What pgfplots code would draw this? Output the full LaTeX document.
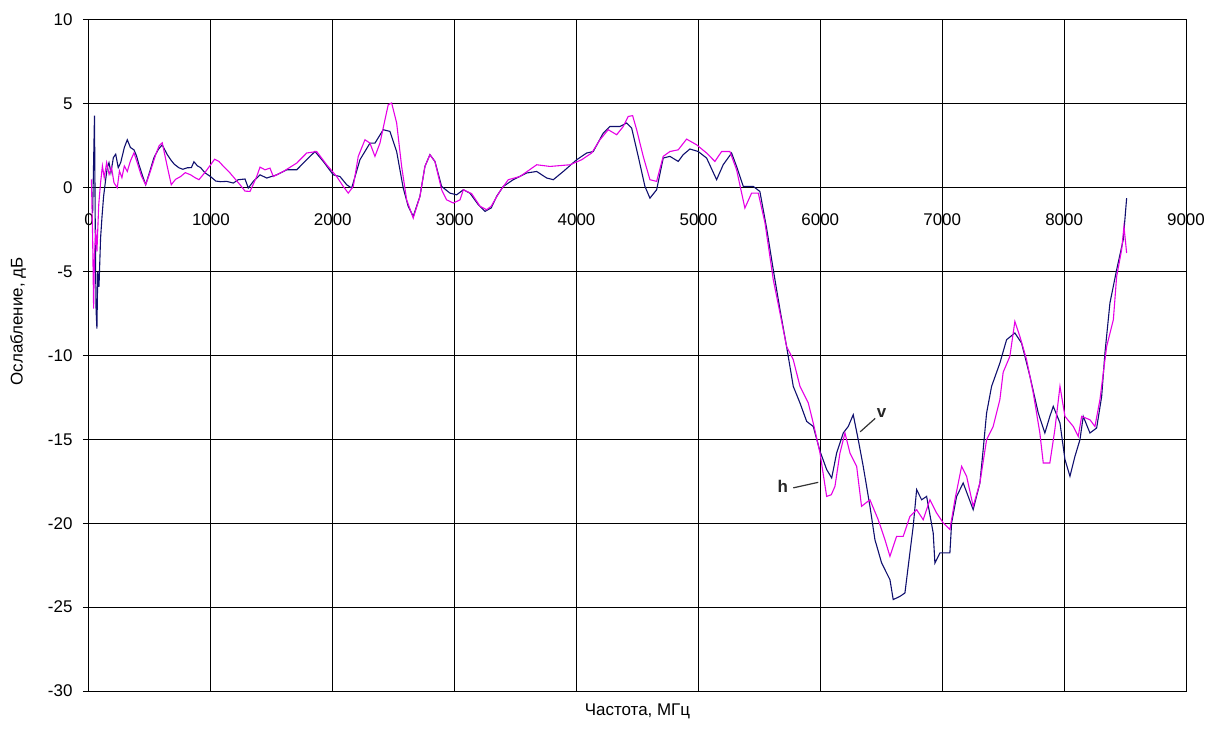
\documentclass[border=0pt]{standalone}
\usepackage{pgfplots}
\pgfplotsset{compat=1.18}
\usepackage{fontspec}
\setmainfont{Liberation Sans}
\definecolor{vcol}{RGB}{15,15,110}
\definecolor{hcol}{RGB}{230,0,230}
\begin{document}
\begin{tikzpicture}
\begin{axis}[
 at={(0,0)}, anchor=south west,
 scale only axis, width=1097bp, height=671bp,
 xmin=0, xmax=9000, ymin=-30, ymax=10,
 xtick={0,1000,...,9000}, ytick={-30,-25,...,10},
 grid=major, grid style={black, line width=1bp},
 axis line style={black, line width=1bp},
 xtick style={draw=none},
 ytick style={black, line width=1bp},
 tick align=outside, major tick length=6bp,
 ytick pos=left, xtick pos=bottom,
 /pgf/number format/assume math mode=true,
 /pgf/number format/1000 sep={},
 scaled ticks=false,
 tick label style={font=\fontsize{17}{20}\selectfont},
 xticklabel style={anchor=north, yshift=487bp},
 yticklabel style={anchor=east, xshift=-7bp},
 xlabel={Частота, МГц}, ylabel={Ослабление, дБ},
 label style={font=\fontsize{17}{20}\selectfont},
 xlabel style={at={(axis description cs:0.5,-0.0298)}, anchor=center},
 ylabel style={at={(axis description cs:-0.0647,0.551)}, anchor=center},
 clip=false,
]
\addplot[color=vcol, line width=1.1bp] coordinates {
(30,-1.5)(45,4.3)(52,-3)(58,-7.3)(65,-8.4)(72,-5)(82,-5.9)(95,-3)(107,-1.7)(120,-0.5)
(137,0.5)(150,1.2)(164,1.5)(180,0.9)(200,1.8)(219,2.0)(240,1.2)(260,1.5)(290,2.4)(314,2.86)
(340,2.4)(369,2.26)(390,1.9)(410,1.37)(440,0.7)(465,0.18)(500,1.0)(533,1.8)(570,2.3)(601,2.56)
(640,2.0)(670,1.67)(700,1.4)(738,1.19)(770,1.1)(806,1.19)(840,1.2)(861,1.55)(890,1.3)(916,1.2)
(950,0.9)(998,0.66)(1040,0.4)(1080,0.36)(1130,0.38)(1184,0.28)(1225,0.48)(1280,0.52)(1307,-0.02)(1348,0.38)
(1403,0.77)(1458,0.58)(1540,0.77)(1622,1.07)(1704,1.07)(1786,1.67)(1854,2.16)(1922,1.57)(2004,0.77)(2059,0.67)
(2114,0.18)(2155,-0.02)(2223,1.67)(2305,2.66)(2346,2.66)(2414,3.46)(2469,3.36)(2524,2.16)(2578,-0.02)(2619,-1.11)
(2660,-1.71)(2715,-0.52)(2756,1.27)(2797,1.97)(2838,1.57)(2893,0.08)(2961,-0.32)(3016,-0.42)(3071,-0.12)(3125,-0.32)
(3194,-1.01)(3249,-1.41)(3300,-1.2)(3344,-0.52)(3399,0.08)(3481,0.48)(3590,0.88)(3673,0.97)(3755,0.58)(3809,0.48)
(3891,0.97)(4001,1.67)(4083,2.07)(4137,2.16)(4219,3.26)(4274,3.65)(4356,3.65)(4411,3.86)(4452,3.56)(4506,1.87)
(4561,0.08)(4602,-0.62)(4657,-0.12)(4711,1.77)(4766,1.87)(4834,1.57)(4875,1.97)(4930,2.31)(4998,2.16)(5067,1.77)
(5149,0.48)(5203,1.37)(5272,2.07)(5313,1.27)(5368,0.08)(5450,0.08)(5504,-0.22)(5559,-2.4)(5614,-4.89)(5669,-7.27)
(5723,-9.46)(5778,-11.84)(5833,-12.83)(5888,-13.93)(5942,-14.23)(5997,-15.7)(6052,-16.8)(6093,-17.3)(6134,-15.81)(6188,-14.62)
(6229,-14.23)(6270,-13.53)(6311,-15.02)(6352,-16.61)(6407,-18.99)(6448,-20.98)(6503,-22.37)(6571,-23.36)(6598,-24.55)(6653,-24.36)
(6694,-24.16)(6721,-22.57)(6762,-20.18)(6790,-18.0)(6831,-18.6)(6872,-18.4)(6926,-20.58)(6940,-22.37)(6981,-21.77)(7063,-21.77)
(7077,-19.98)(7118,-18.4)(7172,-17.6)(7254,-19.19)(7309,-17.6)(7336,-15.61)(7364,-13.43)(7405,-11.84)(7473,-10.45)(7528,-9.06)
(7596,-8.66)(7651,-9.26)(7720,-11.25)(7788,-13.43)(7842,-14.62)(7883,-13.63)(7911,-13.03)(7966,-14.02)(8007,-16.2)(8048,-17.2)
(8089,-16.01)(8130,-15.02)(8157,-13.63)(8212,-14.62)(8267,-14.32)(8308,-12.44)(8335,-9.85)(8376,-6.87)(8431,-4.89)(8485,-3.1)
(8513,-0.62)
};
\addplot[color=hcol, line width=1.1bp] coordinates {
(20,0.5)(30,-3)(38,-7.2)(45,-4)(55,-2.5)(65,-3.8)(80,-1.0)(95,0.3)(110,1.3)(125,0.6)
(145,1.5)(165,0.8)(185,1.2)(205,0.3)(232,0.0)(250,1.0)(270,0.6)(290,1.3)(314,0.97)(340,1.6)
(369,2.08)(400,1.4)(430,0.7)(465,0.18)(500,0.9)(547,1.97)(575,2.5)(601,2.68)(642,1.27)(675,0.18)
(710,0.5)(752,0.67)(790,0.9)(834,0.77)(870,0.6)(902,0.48)(950,0.9)(998,1.37)(1030,1.7)(1066,1.57)
(1100,1.3)(1157,0.88)(1239,0.18)(1280,-0.2)(1321,-0.22)(1376,0.67)(1403,1.23)(1444,1.07)(1485,1.17)(1512,0.67)
(1594,0.97)(1704,1.47)(1786,2.07)(1868,2.16)(1950,1.37)(2032,0.67)(2086,0.08)(2127,-0.32)(2168,0.08)(2209,1.87)
(2264,2.86)(2305,2.66)(2346,1.87)(2387,2.66)(2428,4.05)(2455,4.95)(2483,5.05)(2524,3.86)(2565,1.27)(2606,-0.72)
(2660,-1.81)(2715,-0.52)(2756,1.27)(2797,1.97)(2838,1.57)(2893,-0.12)(2934,-0.72)(2989,-0.91)(3044,-0.72)(3071,-0.12)
(3139,-0.35)(3208,-1.1)(3262,-1.31)(3300,-1.1)(3372,-0.2)(3440,0.48)(3536,0.67)(3673,1.37)(3782,1.27)(3946,1.37)
(4042,1.67)(4124,2.07)(4192,2.86)(4260,3.46)(4329,3.16)(4383,3.65)(4424,4.25)(4460,4.3)(4493,3.46)(4547,1.87)
(4602,0.48)(4657,0.38)(4711,1.87)(4766,2.16)(4834,2.26)(4903,2.9)(4985,2.56)(5067,2.07)(5135,1.57)(5190,2.16)
(5258,2.16)(5313,1.07)(5381,-1.21)(5436,-0.32)(5491,-0.32)(5546,-2.1)(5614,-5.48)(5669,-7.47)(5723,-9.46)(5778,-10.25)
(5833,-11.84)(5901,-12.83)(5942,-14.03)(5997,-15.8)(6052,-18.4)(6090,-18.3)(6120,-17.8)(6161,-15.81)(6202,-14.62)(6243,-15.81)
(6298,-16.61)(6338,-18.99)(6407,-18.6)(6475,-19.79)(6530,-20.98)(6571,-21.97)(6626,-20.78)(6680,-20.78)(6735,-19.59)(6790,-19.19)
(6844,-19.79)(6899,-18.6)(6954,-19.39)(7008,-19.98)(7063,-20.38)(7104,-18.6)(7159,-16.61)(7200,-17.2)(7254,-18.99)(7309,-17.6)
(7364,-15.02)(7418,-14.23)(7473,-12.63)(7500,-11.0)(7555,-10.05)(7596,-7.97)(7637,-8.86)(7692,-10.25)(7747,-12.24)(7801,-14.62)
(7829,-16.41)(7883,-16.41)(7924,-14.42)(7966,-11.84)(8007,-13.63)(8075,-14.23)(8116,-14.82)(8144,-13.63)(8212,-13.83)(8253,-14.23)
(8294,-12.63)(8349,-9.46)(8404,-7.87)(8431,-5.29)(8472,-3.69)(8491,-2.31)(8513,-3.89)
};
\draw[black!80, line width=1.2bp] (axis cs:6327,-14.55) -- (axis cs:6450,-13.75);
\node[font=\fontsize{17}{20}\selectfont\bfseries, text=black!85] at (axis cs:6503,-13.43) {v};
\draw[black!80, line width=1.2bp] (axis cs:5778,-17.89) -- (axis cs:5983,-17.56);
\node[font=\fontsize{17}{20}\selectfont\bfseries, text=black!85] at (axis cs:5693,-17.8) {h};
\end{axis}
\path (-89bp,-45bp) rectangle (1123bp,691bp);
\end{tikzpicture}
\end{document}
